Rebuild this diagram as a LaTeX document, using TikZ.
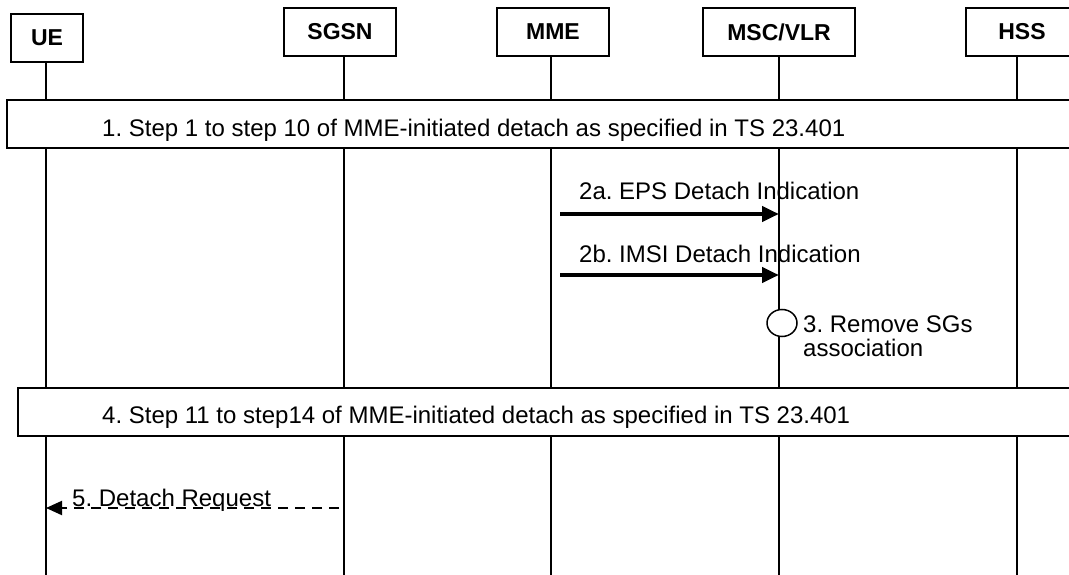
\documentclass[tikz,border=0pt]{standalone}
\usepackage{fontspec}
\setmainfont{Liberation Sans}
\frenchspacing
\usetikzlibrary{arrows.meta,shapes.geometric}
\tikzset{
  hdr/.style={draw,line width=1.5pt,rectangle,minimum height=48pt,inner sep=0pt,font=\fontsize{23}{24}\selectfont\bfseries,fill=white},
  life/.style={line width=1.5pt},
  stepbox/.style={draw,line width=1.5pt,rectangle,minimum height=48pt,inner sep=0pt,fill=white},
  lbl/.style={inner sep=0pt,font=\fontsize{24}{24}\selectfont},
  msg/.style={line width=4.5pt,-{Triangle[length=17pt,width=15pt]}},
  dmsg/.style={line width=2pt,dash pattern=on 10pt off 7pt,-{Triangle[length=16pt,width=14pt]}},
}
\begin{document}
\begin{tikzpicture}[x=1pt,y=-1pt]
\clip (0,0) rectangle (1069,575);
\fill[white] (0,0) rectangle (1069,575);
% labels first (lifelines cross them)
\node[lbl,anchor=base west] (l2a) at (579,200) {2a. EPS Detach Indication};
\node[lbl,anchor=base west] (l2b) at (579,262) {2b. IMSI Detach Indication};
% header boxes
\node[hdr,minimum width=72pt] (ue) at (47,38) {UE};
\node[hdr,minimum width=112pt] (sgsn) at (340,32) {SGSN};
\node[hdr,minimum width=112pt] (mme) at (553,32) {MME};
\node[hdr,minimum width=152pt] (msc) at (779,32) {MSC/VLR};
\node[hdr,minimum width=112pt] (hss) at (1022,32) {HSS};
\coordinate (bot) at (0,575);
% lifelines
\coordinate (uel) at (46,62);
\coordinate (sgsnl) at (344,56);
\coordinate (mmel) at (551,56);
\coordinate (mscl) at (779,56);
\coordinate (hssl) at (1017,56);
\foreach \c in {uel,sgsnl,mmel,mscl,hssl}{
  \draw[life] (\c) -- (\c |- bot);
}
% step boxes
\node[stepbox,minimum width=1073pt] (s1) at (543.5,124) {};
\node[lbl,anchor=base west] (t1) at (102,137) {1. Step 1 to step 10 of MME-initiated detach as specified in TS 23.401};
\node[stepbox,minimum width=1062pt] (s4) at (549,412) {};
\node[lbl,anchor=base west] (t4) at (102,423) {4. Step 11 to step14 of MME-initiated detach as specified in TS 23.401};
% messages 2a, 2b
\coordinate (a2s) at (560,214);
\coordinate (b2s) at (560,275);
\draw[msg] (a2s) -- (a2s -| mscl);
\draw[msg] (b2s) -- (b2s -| mscl);
% step 3
\node[draw,ellipse,line width=1.5pt,fill=white,minimum width=30pt,minimum height=27pt,inner sep=0pt] (c3) at (782,323) {};
\node[lbl,anchor=base west] (t3a) at (803,332) {3. Remove SGs};
\node[lbl,anchor=base west] (t3b) at (803,356) {association};
% message 5
\node[lbl,anchor=base west] (l5) at (72,506) {5. Detach Request};
\coordinate (m5s) at (339,508);
\draw[dmsg] (m5s) -- (m5s -| uel);
\end{tikzpicture}
\end{document}
